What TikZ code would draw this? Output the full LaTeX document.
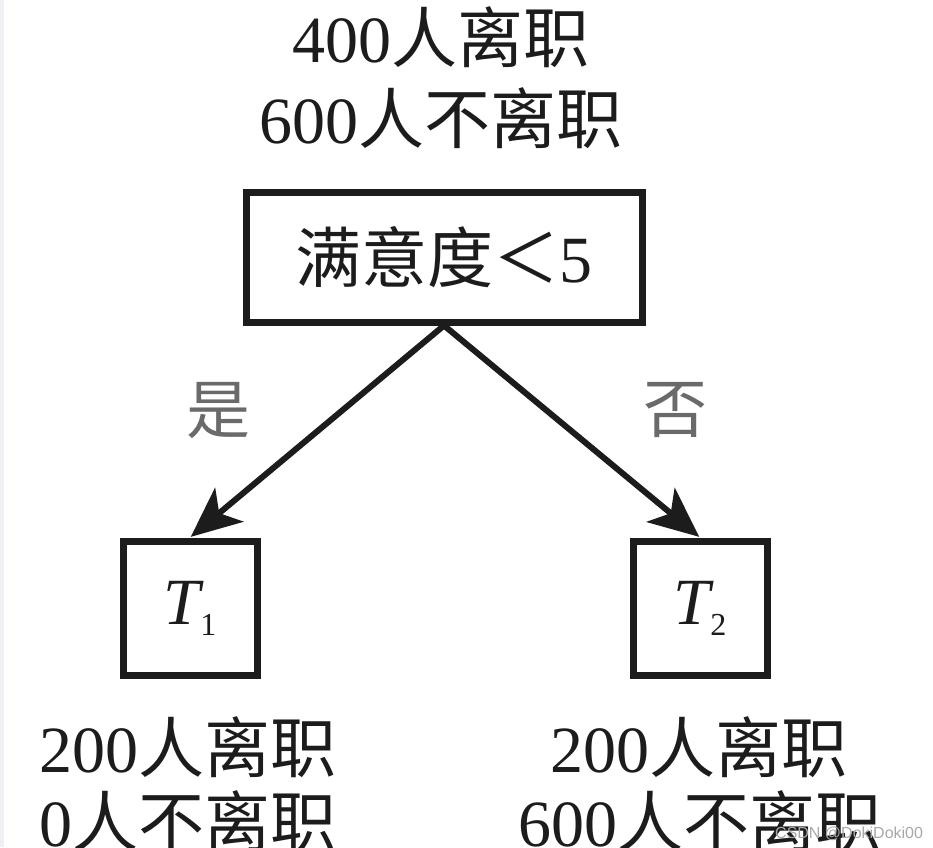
\documentclass[tikz,border=0pt]{standalone}
\usepackage{fontspec}
\setmainfont{Liberation Serif}
\newfontfamily\cjk{Noto Sans CJK SC}
\newfontfamily\wmfont{Liberation Sans}
\usetikzlibrary{arrows.meta}
\definecolor{ink}{HTML}{1C1C1C}
\definecolor{labgray}{HTML}{6A6A6A}
\definecolor{stripcol}{HTML}{EEF0F4}
\definecolor{wmcol}{HTML}{A8A8A8}
\begin{document}
\begin{tikzpicture}[x=1pt,y=-1pt,
  big/.style={font=\fontsize{66}{66}\selectfont, text=ink, inner sep=0pt},
  lab/.style={font=\fontsize{64}{64}\selectfont\cjk, text=labgray, inner sep=0pt},
  boxline/.style={draw=ink, line width=7pt},
  tbox/.style={boxline, minimum width=134pt, minimum height=134pt, inner sep=0pt, font=\fontsize{66}{66}\selectfont, text=ink},
  arr/.style={draw=ink, line width=6pt, -{Stealth[length=50pt, width=44pt, inset=13pt]}}
]
\useasboundingbox (0,0) rectangle (933,847);
\clip (0,0) rectangle (933,847);
\fill[white] (0,0) rectangle (933,847);
\fill[stripcol] (0,0) rectangle (4,847);

% top counts
\node[big, anchor=base] (top1) at (441,62) {400{\cjk 人离职}};
\node[big, anchor=base] (top2) at (441,143) {600{\cjk 人不离职}};

% root
\node[boxline, minimum width=396pt, minimum height=130pt, inner sep=0pt, big] (main) at (444,257) {{\cjk 满意度＜}5};

% leaves
\node[tbox] (t1) at (190,608) {{\itshape T}\raisebox{-11pt}{\fontsize{32}{32}\selectfont 1}};
\node[tbox] (t2) at (700,608) {{\itshape T}\raisebox{-11pt}{\fontsize{32}{32}\selectfont 2}};

% edges
\draw[arr, shorten >=1pt] (main.south) -- (t1.north);
\draw[arr, shorten >=1pt] (main.south) -- (t2.north);

% labels
\node[lab] (yes) at (218,411) {是};
\node[lab] (no) at (675,410) {否};

% bottom counts
\node[big, anchor=base] (b1a) at (188,772) {200{\cjk 人离职}};
\node[big, anchor=base] (b1b) at (188,846) {0{\cjk 人不离职}};
\node[big, anchor=base] (b2a) at (699,772) {200{\cjk 人离职}};
\node[big, anchor=base] (b2b) at (700,846) {600{\cjk 人不离职}};

% watermark
\node[anchor=base west, inner sep=0pt, font=\wmfont\fontsize{16}{16}\selectfont, text=wmcol] (wm) at (775,838) {CSDN @DokiDoki00};
\end{tikzpicture}
\end{document}
